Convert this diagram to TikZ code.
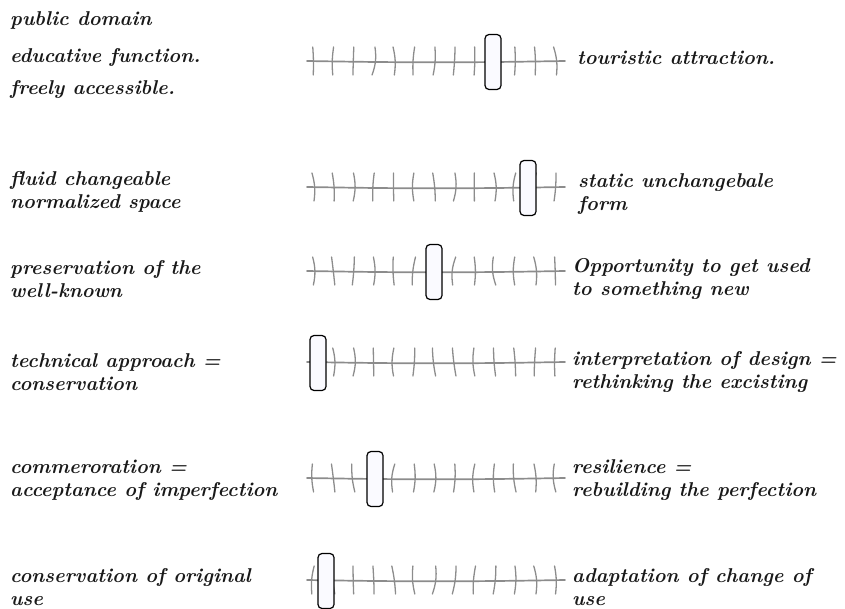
\documentclass[tikz,border=0pt]{standalone}
\usepackage{fontspec}
\usetikzlibrary{positioning}

\begin{document}
\begin{tikzpicture}[x=1pt,y=-1pt]
  \tikzset{word/.style = {anchor=west,inner sep=0pt,align=left,text=black!90,
      font=\fontsize{20}{23}\selectfont\bfseries\itshape}}
  \tikzset{track/.style = {draw=black!45,line width=1.7pt,line cap=round}}
  \tikzset{notch/.style = {draw=black!45,line width=1.3pt,line cap=round}}
  \tikzset{knob/.style = {shape=rectangle,draw=black,line width=1.2pt,fill=blue!2,
      rounded corners=4pt,minimum width=16pt,minimum height=55pt,inner sep=0pt}}

  \useasboundingbox (0,0) rectangle (845,609);
  \pgfmathsetseed{7}

  % sliders: name / height of the track / place of the knob
  \foreach \name/\y/\k in {tour/61/493, form/187/528, known/271/434,
                           tech/362/318, memo/478/375, use/580/326} {
    \coordinate (\name-a) at (307,\y);
    \coordinate (\name-b) at (565,\y);
    \draw[track] (\name-a) to[bend right=1] (\name-b);
    \foreach \i in {0,...,12} {
      \pgfmathsetmacro\bx{313+\i*20.17}
      \pgfmathsetmacro\sl{rand*2}
      \pgfmathsetmacro\bd{rand*14}
      \draw[notch] (\bx+\sl,\y-14) to[bend left=\bd] (\bx-\sl,\y+14);
    }
    \node[knob] (\name-knob) at (\k,\y+1) {};
  }

  % left side
  \node[word] (pub) at (10,20) {public domain};
  \node[word] (edu) at (10,58) {educative function.};
  \node[word] (free) at (10,90) {freely accessible.};
  \node[word] (fluid) at (10,192) {fluid changeable\\normalized space};
  \node[word] (pres) at (10,279) {preservation of the\\well-known};
  \node[word] (techl) at (10,372) {technical approach =\\conservation};
  \node[word] (comm) at (10,480) {commeroration =\\acceptance of imperfection};
  \node[word] (cons) at (10,587) {conservation of original\\use};

  % right side
  \node[word] (touri) at (577,58) {touristic attraction.};
  \node[word] (stat) at (578,194) {static unchangebale\\form};
  \node[word] (opp) at (572,279) {Opportunity to get used\\to something new};
  \node[word] (interp) at (572,372) {interpretation of design =\\rethinking the excisting};
  \node[word] (resil) at (572,480) {resilience =\\rebuilding the perfection};
  \node[word] (adapt) at (572,587) {adaptation of change of\\use};

\end{tikzpicture}
\end{document}
